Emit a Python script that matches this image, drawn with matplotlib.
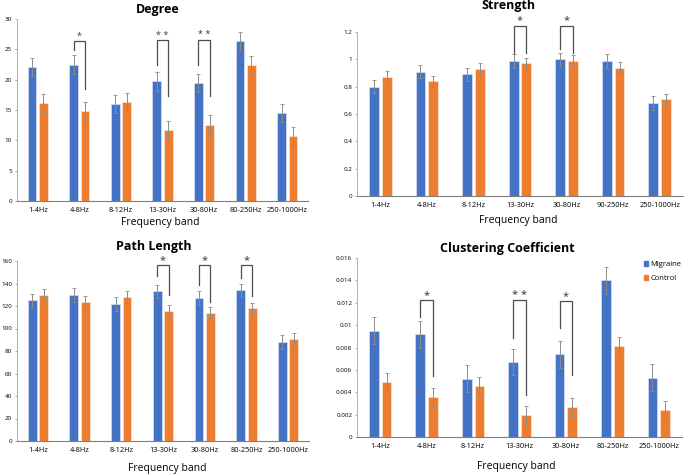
import numpy as np
import matplotlib.pyplot as plt
from matplotlib.patches import Patch

# Frequency bands (the Strength panel labels its 6th band "90-250Hz")
bands = ["1-4Hz", "4-8Hz", "8-12Hz", "13-30Hz", "30-80Hz", "80-250Hz", "250-1000Hz"]
bands_strength = ["1-4Hz", "4-8Hz", "8-12Hz", "13-30Hz", "30-80Hz", "90-250Hz", "250-1000Hz"]

# Degree
degree_migraine = [22.1, 22.5, 16.0, 19.7, 19.5, 26.4, 14.5]
degree_control = [16.1, 14.8, 16.3, 11.7, 12.6, 22.4, 10.7]
degree_migraine_err = [1.5, 1.5, 1.5, 1.6, 1.5, 1.5, 1.5]
degree_control_err = [1.5, 1.5, 1.5, 1.5, 1.5, 1.5, 1.5]

# Strength
strength_migraine = [0.80, 0.91, 0.89, 0.99, 1.00, 0.99, 0.68]
strength_control = [0.87, 0.84, 0.93, 0.97, 0.99, 0.94, 0.71]
strength_migraine_err = [0.047, 0.05, 0.05, 0.05, 0.046, 0.05, 0.05]
strength_control_err = [0.045, 0.04, 0.043, 0.04, 0.04, 0.04, 0.04]

# Path length
path_migraine = [125, 130, 122, 133, 127, 134, 88]
path_control = [130, 124, 128, 116, 114, 118, 91]
path_migraine_err = [6, 6, 6, 6, 6, 6, 6]
path_control_err = [5, 5, 5, 5, 5, 5, 5]

# Clustering coefficient
cc_migraine = [0.0095, 0.0092, 0.0052, 0.0067, 0.0074, 0.0140, 0.0053]
cc_control = [0.0049, 0.0036, 0.0046, 0.0020, 0.0027, 0.0081, 0.0024]
cc_migraine_err = [0.0012, 0.0012, 0.0012, 0.0012, 0.0012, 0.0012, 0.0012]
cc_control_err = [0.0008, 0.0008, 0.0008, 0.0008, 0.0008, 0.0008, 0.0008]

# Significance brackets: (band index, left leg bottom, top, right leg bottom, label)
degree_sig = [(1, 24.9, 26.4, 18.4, "*"), (3, 22.4, 26.5, 17.3, "* *"), (4, 22.4, 26.6, 17.3, "* *")]
strength_sig = [(3, 1.046, 1.247, 1.046, "*"), (4, 1.075, 1.247, 1.05, "*")]
path_sig = [(3, 146.6, 156.4, 129.7, "*"), (4, 139, 156.4, 124, "*"), (5, 145, 156.4, 128.8, "*")]
cc_sig = [(1, 0.01075, 0.01223, 0.00546, "*"), (3, 0.00882, 0.01223, 0.00377, "* *"),
          (4, 0.0097, 0.01217, 0.00555, "*")]

BLUE = "#4472C4"
ORANGE = "#ED7D31"
W, H = 685, 474

plt.rcParams["font.family"] = ["Open Sans", "DejaVu Sans"]


def px_rect(left, right, bottom, top):
    """Axes rectangle in figure fraction from pixel edges."""
    return [left / W, 1 - bottom / H, (right - left) / W, (bottom - top) / H]


def panel(fig, rect, labels, mig, ctl, mig_err, ctl_err, ylim, yticks, yticklabels, sig, star_size):
    ax = fig.add_axes(rect)
    x = np.arange(len(labels))
    w = 0.21
    off = 0.137
    ekw = dict(ecolor="#8c8c8c", elinewidth=0.7, capsize=1.2, capthick=0.6)
    ax.bar(x - off, mig, w, color=BLUE, edgecolor="#d9e1f2", linewidth=0.5, yerr=mig_err, error_kw=ekw)
    ax.bar(x + off, ctl, w, color=ORANGE, edgecolor="#fbe5d6", linewidth=0.5, yerr=ctl_err, error_kw=ekw)

    ax.set_xlim(-0.5, len(labels) - 0.5)
    ax.set_ylim(*ylim)
    ax.set_xticks(x)
    ax.set_xticklabels(labels, fontsize=5.3)
    ax.set_yticks(yticks)
    ax.set_yticklabels(yticklabels, fontsize=4.5)
    ax.tick_params(axis="x", length=0, pad=4)
    ax.tick_params(axis="y", length=1.5, width=0.5, color="#8c8c8c", pad=2)

    for s in ["top", "right"]:
        ax.spines[s].set_visible(False)
    ax.spines["left"].set_color("#a6a6a6")
    ax.spines["left"].set_linewidth(0.6)
    ax.spines["left"].set_bounds(0, yticks[-1])
    ax.spines["bottom"].set_color("#7f7f7f")
    ax.spines["bottom"].set_linewidth(0.8)

    # significance brackets with the stars just above them
    span = ylim[1] - ylim[0]
    for i, yl, yt, yr, txt in sig:
        xl, xr = i - off, i + off
        ax.plot([xl, xl, xr, xr], [yl, yt, yt, yr], color="#4d4d4d", linewidth=0.9,
                solid_joinstyle="miter", clip_on=False)
        ax.text(i, yt + span * 0.012, txt, ha="center", va="baseline",
                fontsize=star_size, color="#333333", clip_on=False)
    return ax


fig = plt.figure(figsize=(W / 100, H / 100), dpi=100)

ax1 = panel(fig, px_rect(17, 308, 201, 19), bands, degree_migraine, degree_control,
            degree_migraine_err, degree_control_err, (0, 30),
            [0, 5, 10, 15, 20, 25, 30], ["0", "5", "10", "15", "20", "25", "30"], degree_sig, 6.5)

ax2 = panel(fig, px_rect(357, 683, 196, 15.6), bands_strength, strength_migraine, strength_control,
            strength_migraine_err, strength_control_err, (0, 1.32),
            [0, 0.2, 0.4, 0.6, 0.8, 1.0, 1.2], ["0", "0.2", "0.4", "0.6", "0.8", "1", "1.2"],
            strength_sig, 8)

ax3 = panel(fig, px_rect(17, 309, 441, 252), bands, path_migraine, path_control,
            path_migraine_err, path_control_err, (0, 168),
            [0, 20, 40, 60, 80, 100, 120, 140, 160],
            ["0", "20", "40", "60", "80", "100", "120", "140", "160"], path_sig, 8)

ax4 = panel(fig, px_rect(357, 682, 437, 258), bands, cc_migraine, cc_control,
            cc_migraine_err, cc_control_err, (0, 0.016),
            [0, 0.002, 0.004, 0.006, 0.008, 0.01, 0.012, 0.014, 0.016],
            ["0", "0.002", "0.004", "0.006", "0.008", "0.01", "0.012", "0.014", "0.016"],
            cc_sig, 8)

# panel titles and axis labels placed in pixel coordinates
titles = [("Degree", 158, 9), ("Strength", 508, 6), ("Path Length", 154, 247), ("Clustering Coefficient", 507, 248)]
for txt, tx, ty in titles:
    fig.text(tx / W, 1 - ty / H, txt, ha="center", va="center", fontsize=9, fontweight="bold")

xlabels = [(160, 223), (518, 220), (167, 468), (516, 467)]
for tx, ty in xlabels:
    fig.text(tx / W, 1 - ty / H, "Frequency band", ha="center", va="center", fontsize=7.5)

# legend in the clustering panel
handles = [Patch(color=BLUE, label="Migraine"), Patch(color=ORANGE, label="Control")]
leg = fig.legend(handles=handles, loc="upper left", bbox_to_anchor=(640 / W, 1 - 257 / H),
                 frameon=False, fontsize=5.5, handlelength=0.6, handleheight=0.6,
                 handletextpad=0.3, labelspacing=0.9, borderpad=0)

plt.savefig("out.png", dpi=100)
